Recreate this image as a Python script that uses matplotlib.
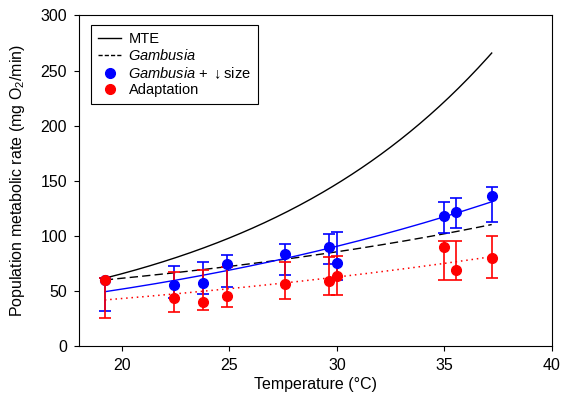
import matplotlib
matplotlib.use("Agg")
import matplotlib.pyplot as plt
import numpy as np
from matplotlib.lines import Line2D

plt.rcParams['font.family'] = ['Liberation Sans', 'DejaVu Sans']
plt.rcParams['mathtext.fontset'] = 'custom'
plt.rcParams['mathtext.rm'] = 'Liberation Sans'
plt.rcParams['mathtext.it'] = 'Liberation Sans:italic'

# Data
temps = [19.2, 22.4, 23.75, 24.9, 27.6, 29.65, 30.0, 35.0, 35.55, 37.2]
blue = [60.5, 55.5, 57.5, 74.5, 83.5, 90, 75.5, 118, 121.5, 136.5]
blue_hi = [62.5, 72.5, 77, 83, 93, 101.5, 103.5, 130.5, 135, 144.5]
blue_lo = [32.5, 43.5, 47.5, 53.5, 64.5, 74.5, 60, 102.5, 107, 113]
red = [60, 43.5, 40, 46, 56.5, 59.5, 64, 90, 69.5, 80]
red_hi = [62.5, 67.5, 69.5, 72, 76.5, 81.5, 82, 95.5, 96, 100.5]
red_lo = [26, 31.5, 33.5, 36, 43, 46.5, 47, 60.5, 60, 62.5]

mte_t = [19.2, 20.5, 23.6, 26.9, 29.7, 32.5, 33.9, 35.3, 37.2]
mte_y = [61, 69.5, 89, 114, 143.5, 179.5, 203, 228, 266.5]
gam_t = [19.2, 27.35, 29.67, 35.26, 37.2]
gam_y = [60.3, 78.1, 85.4, 102.6, 110.8]
size_t = [19.2, 27.35, 29.67, 34.95, 37.2]
size_y = [49.7, 77.5, 91.1, 116.2, 131.6]
adapt_t = [19.2, 27.35, 35.0, 37.2]
adapt_y = [42.2, 56.9, 76.0, 80.9]

fig = plt.figure(figsize=(5.62, 4.07), dpi=100)
ax = fig.add_axes([0.1406, 0.1487, 0.982 - 0.1406, 0.962 - 0.1487])

def smooth(t, y, deg=2):
    t = np.asarray(t, float)
    y = np.asarray(y, float)
    c = np.polyfit(t, np.log(y), deg)
    tt = np.linspace(t[0], t[-1], 200)
    return tt, np.exp(np.polyval(c, tt))

ax.plot(*smooth(mte_t, mte_y), color='black', lw=1)
ax.plot(*smooth(gam_t, gam_y), color='black', lw=1, dashes=(6, 3))
ax.plot(*smooth(size_t, size_y), color='blue', lw=1)
ax.plot(*smooth(adapt_t, adapt_y), color='red', lw=1.1, linestyle=(0, (1, 2.5)))

t = np.array(temps)
b = np.array(blue)
r = np.array(red)
ax.errorbar(t, b, yerr=[b - np.array(blue_lo), np.array(blue_hi) - b], fmt='o',
            color='blue', ms=7, capsize=4, elinewidth=1.2, capthick=1.2)
ax.errorbar(t, r, yerr=[r - np.array(red_lo), np.array(red_hi) - r], fmt='o',
            color='red', ms=7, capsize=4, elinewidth=1.2, capthick=1.2)

ax.set_xlim(18, 40)
ax.set_ylim(0, 300)
ax.set_xticks([20, 25, 30, 35, 40])
ax.set_yticks([0, 50, 100, 150, 200, 250, 300])
ax.tick_params(direction='out', labelsize=11.5, length=3.5, pad=5)
ax.set_xlabel('Temperature (°C)', fontsize=11.5, labelpad=3)
ax.set_ylabel('Population metabolic rate (mg O$_2$/min)', fontsize=11.5, labelpad=10)

handles = [
    Line2D([], [], color='black', lw=1),
    Line2D([], [], color='black', lw=1, dashes=(3, 1.5)),
    Line2D([], [], color='blue', marker='o', ls='none', ms=7),
    Line2D([], [], color='red', marker='o', ls='none', ms=7),
]
labels = ['MTE', r'$\it{Gambusia}$', r'$\it{Gambusia}$ + $\downarrow$size', 'Adaptation']
leg = ax.legend(handles, labels, loc='upper left', fontsize=10.5, frameon=True,
                fancybox=False, edgecolor='black', framealpha=1,
                handlelength=1.6, handletextpad=0.5, borderpad=0.45, labelspacing=0.15,
                borderaxespad=0, bbox_to_anchor=(0.026, 0.97))
leg.get_frame().set_linewidth(0.8)

fig.savefig('out.png', dpi=100)
